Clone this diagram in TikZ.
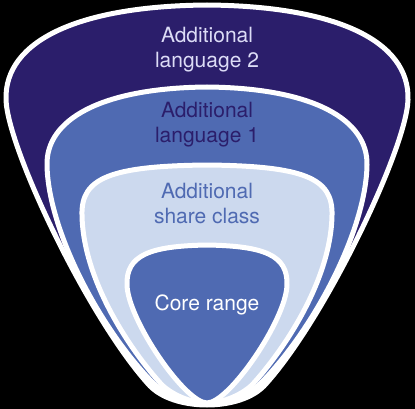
\documentclass[tikz,border=0pt]{standalone}
\usepackage{fontspec}
\setmainfont{TeX Gyre Heros}
\definecolor{navy}{HTML}{2B1E6B}
\definecolor{midblue}{HTML}{4F6AB2}
\definecolor{lightblue}{HTML}{CCD9EE}
\definecolor{lavender}{HTML}{DCDCF6}
\begin{document}
\begin{tikzpicture}[x=1pt,y=-1pt,
  layer/.style={draw=white,line width=5pt,line join=round},
  lbl/.style={align=center,font=\fontsize{21}{25}\selectfont,inner sep=0pt}]
\fill[black] (0,0) rectangle (415,409);
\useasboundingbox (0,0) rectangle (415,409);
% outer layer
\path[layer,fill=navy] (207,405) .. controls (190,405) and (165,401) .. (150,386)
  .. controls (90,321) and (8,150) .. (6,100)
  .. controls (4,40) and (80,6) .. (207,5)
  .. controls (334,6) and (410,40) .. (408,100)
  .. controls (406,150) and (324,321) .. (264,386)
  .. controls (249,401) and (224,405) .. (207,405) -- cycle;
% layer 2
\path[layer,fill=midblue] (207,404) .. controls (192,404) and (170,398) .. (155,385)
  .. controls (100,330) and (48,230) .. (47,165)
  .. controls (46,120) and (100,88) .. (207,87)
  .. controls (314,88) and (368,120) .. (367,165)
  .. controls (366,230) and (314,330) .. (259,385)
  .. controls (244,398) and (222,404) .. (207,404) -- cycle;
% layer 3
\path[layer,fill=lightblue] (207,403) .. controls (194,403) and (175,397) .. (162,385)
  .. controls (130,350) and (83,280) .. (82,215)
  .. controls (81,178) and (110,166) .. (207,165)
  .. controls (304,166) and (333,178) .. (332,215)
  .. controls (331,280) and (284,350) .. (252,385)
  .. controls (239,397) and (220,403) .. (207,403) -- cycle;
% core
\path[layer,fill=midblue] (207,403) .. controls (185,403) and (128,320) .. (127,285)
  .. controls (126,255) and (150,246) .. (207,245)
  .. controls (264,246) and (288,255) .. (287,285)
  .. controls (286,320) and (229,403) .. (207,403) -- cycle;
\node[lbl,text=lavender] (l2) at (207,50) {Additional\\language 2};
\node[lbl,text=navy] (l1) at (207,125) {Additional\\language 1};
\node[lbl,text=midblue] (sc) at (207,204) {Additional\\share class};
\node[lbl,text=white] (core) at (207,305) {Core range};
\end{tikzpicture}
\end{document}
